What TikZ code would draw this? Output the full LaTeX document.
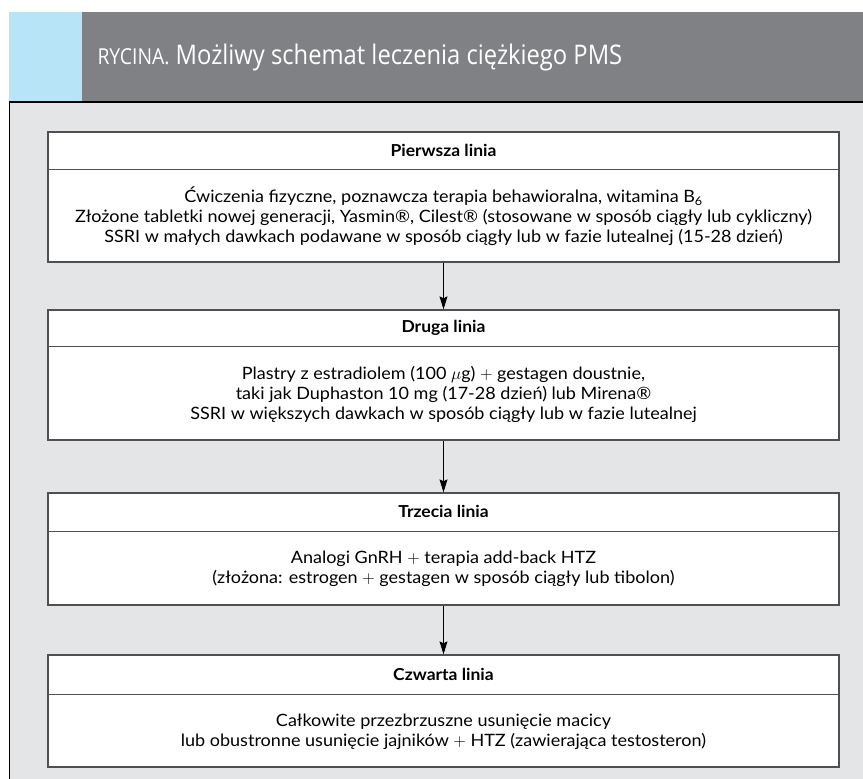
\documentclass[tikz,border=0pt]{standalone}
\usepackage{fontspec}
\setmainfont{Lato}[FakeStretch=1.06]
\newfontfamily\headfont{Open Sans}[FakeStretch=0.88]
\usetikzlibrary{arrows.meta, positioning, calc}
\definecolor{rycBlue}{RGB}{184,228,248}
\definecolor{rycHead}{RGB}{128,129,133}
\definecolor{rycPanel}{RGB}{228,229,231}
\definecolor{rycEdge}{RGB}{80,80,82}
\newcommand{\linefont}{\fontsize{17}{20}\selectfont}
\newcommand{\titlefont}{\fontsize{16.5}{19}\selectfont\bfseries}
\tikzset{
  linebox/.style={draw=rycEdge, line width=1.3pt, fill=white, minimum width=791pt, inner sep=0pt},
  linetitle/.style={font=\titlefont},
  linetext/.style={font=\linefont, align=center},
  sepline/.style={draw=rycEdge, line width=1.1pt},
  flowarrow/.style={-{Stealth[length=13pt,width=8pt,inset=2pt]}, line width=0.9pt}
}

\begin{document}
\begin{tikzpicture}[x=1pt, y=1pt]
\useasboundingbox (0,0) rectangle (863,779);
% header band and grey panel
\fill[rycBlue] (9,677) rectangle (82,767);
\fill[rycHead] (82,677) rectangle (863,767);
\fill[rycPanel] (9,0) rectangle (863,677);
\draw[black, line width=1.4pt] (9.7,0) -- (9.7,677) -- (863,677);
\node[anchor=west, text=white, font=\headfont\fontsize{27}{30}\selectfont] (head) at (94,722)
  {{\fontsize{22}{24}\selectfont RYCINA.} Możliwy schemat leczenia ciężkiego PMS};
% the four lines of treatment
\node[linebox, minimum height=130pt] (b1) at (443.5,582) {};
\node[linebox, minimum height=130pt] (b2) at (443.5,404) {};
\node[linebox, minimum height=112pt] (b3) at (443.5,230) {};
\node[linebox, minimum height=112pt] (b4) at (443.5,68) {};
\foreach \b/\h in {b1/38, b2/37, b3/39, b4/40}
  \draw[sepline] ($(\b.north west)+(0,-\h)$) -- ($(\b.north east)+(0,-\h)$);
\node[linetitle] (t1) at ($(b1.north)+(0,-19)$) {Pierwsza linia};
\node[linetitle] (t2) at ($(b2.north)+(0,-18.5)$) {Druga linia};
\node[linetitle] (t3) at ($(b3.north)+(0,-19.5)$) {Trzecia linia};
\node[linetitle] (t4) at ($(b4.north)+(0,-20)$) {Czwarta linia};
\node[linetext] (x1) at ($(b1.south)+(0,46)$) {Ćwiczenia fizyczne, poznawcza terapia behawioralna, witamina B\textsubscript{6}\\
  Złożone tabletki nowej generacji, Yasmin®, Cilest® (stosowane w sposób ciągły lub cykliczny)\\
  SSRI w małych dawkach podawane w sposób ciągły lub w fazie lutealnej (15-28 dzień)};
\node[linetext] (x2) at ($(b2.south)+(0,46.5)$) {Plastry z estradiolem (100 $\mu$g) $+$ gestagen doustnie,\\
  taki jak Duphaston 10 mg (17-28 dzień) lub Mirena®\\
  SSRI w większych dawkach w sposób ciągły lub w fazie lutealnej};
\node[linetext] (x3) at ($(b3.south)+(0,36.5)$) {Analogi GnRH $+$ terapia add-back HTZ\\
  (złożona: estrogen $+$ gestagen w sposób ciągły lub tibolon)};
\node[linetext] (x4) at ($(b4.south)+(0,36)$) {Całkowite przezbrzuszne usunięcie macicy\\
  lub obustronne usunięcie jajników $+$ HTZ (zawierająca testosteron)};
% arrows between the lines
\draw[flowarrow] (b1.south) -- (b2.north);
\draw[flowarrow] (b2.south) -- (b3.north);
\draw[flowarrow] (b3.south) -- (b4.north);
\end{tikzpicture}
\end{document}
